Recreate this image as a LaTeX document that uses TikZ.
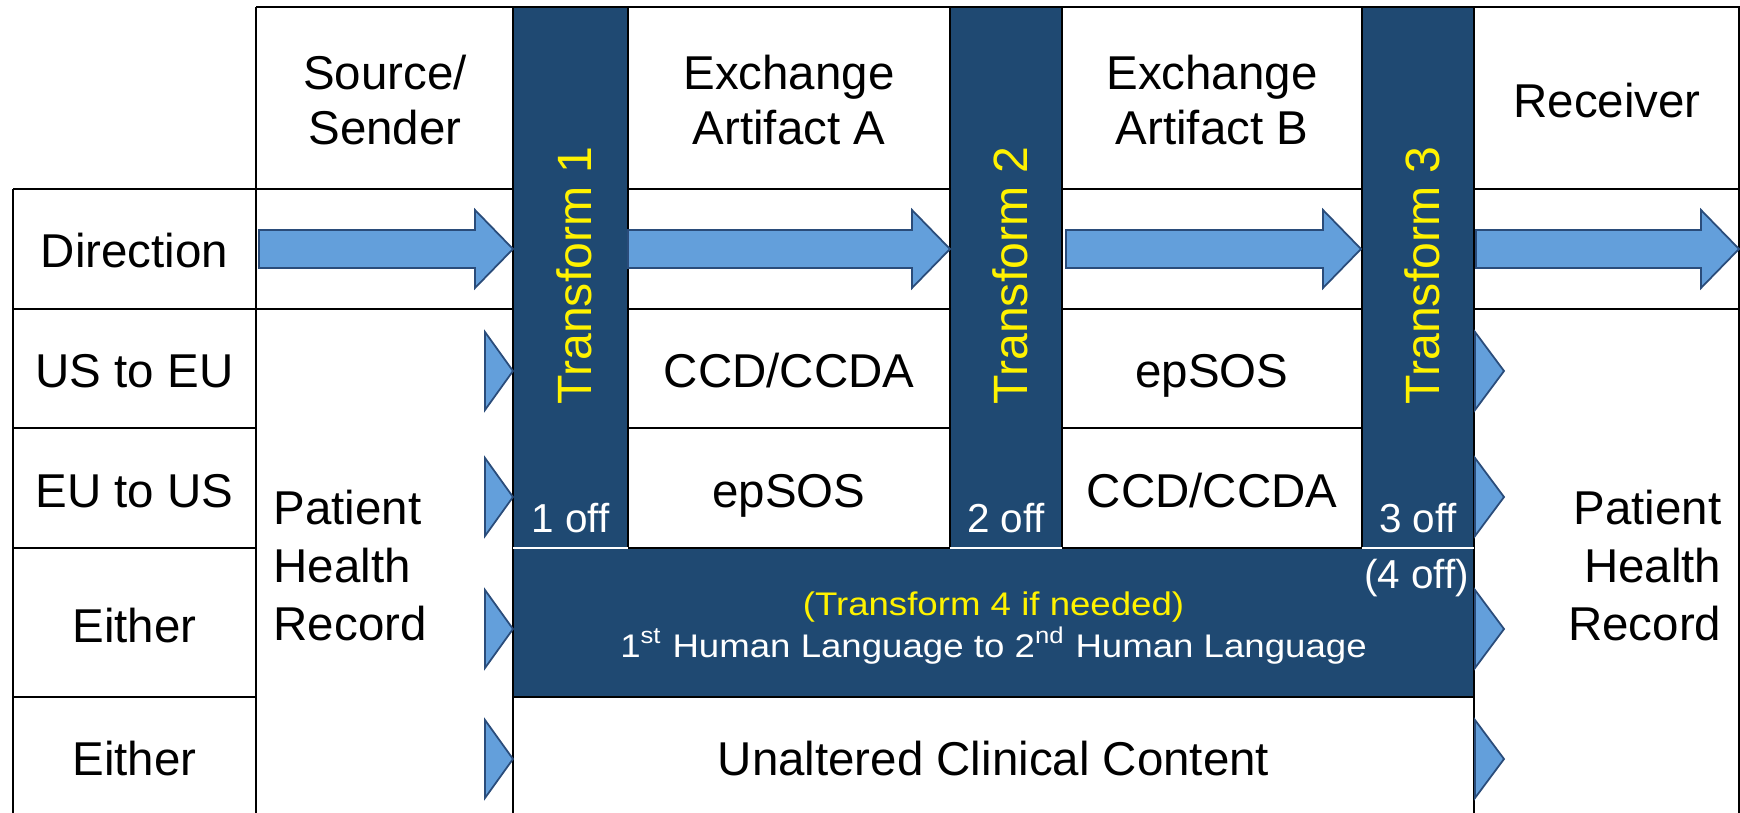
\documentclass[tikz,border=0pt]{standalone}
\usepackage{fontspec}
\setmainfont{Liberation Sans}
\newfontfamily\bandfont[FakeStretch=1.12]{Liberation Sans}
\usetikzlibrary{calc}

\definecolor{tfblue}{RGB}{31,73,114}
\definecolor{arrfill}{RGB}{99,159,219}
\definecolor{arrdraw}{RGB}{42,76,122}

\begin{document}
\begin{tikzpicture}[x=0.01cm, y=-0.01cm,
    grid/.style={draw=black, line width=0.6pt},
    tfbar/.style={fill=tfblue, draw=black, line width=0.6pt},
    arr/.style={fill=arrfill, draw=arrdraw, line width=0.5pt},
    txt/.style={inner sep=0, font=\fontsize{13.5}{15.6}\selectfont, align=center},
    rowtxt/.style={txt, anchor=base},
    phr/.style={inner sep=0, font=\fontsize{13.5}{16.5}\selectfont},
    tftxt/.style={inner sep=0, font=\fontsize{13.7}{16}\selectfont, text=yellow,
      rotate=90, anchor=base west},
    offtxt/.style={inner sep=0, font=\fontsize{11.5}{14}\selectfont, text=white, anchor=base},
    bandtxt/.style={inner sep=0, font=\bandfont\fontsize{9.3}{11}\selectfont, anchor=base}]
  \useasboundingbox (0,0) rectangle (1740,813);

  % table lines
  \draw[grid] (256,7) -- (1740,7);
  \draw[grid] (13,189) -- (1740,189);
  \draw[grid] (13,309) -- (1740,309);
  \foreach \y in {428,548}
    \draw[grid] (13,\y) -- (256,\y) (628,\y) -- (1362,\y);
  \draw[grid] (13,697) -- (256,697);
  \draw[grid] (13,189) -- (13,813);
  \foreach \x in {256,513,1474,1739}
    \draw[grid] (\x,7) -- (\x,813);

  % transform 4 band
  \draw[tfbar] (513,548) rectangle (1474,697);
  \node[bandtxt, text=yellow] (tf4) at (993.5,615) {(Transform 4 if needed)};
  \node[bandtxt, text=white] (lang) at (993.5,657)
    {1\textsuperscript{st} Human Language to 2\textsuperscript{nd} Human Language};
  \node[offtxt] (off4) at (1416.5,588) {(4 off)};

  % transform bars
  \foreach \l/\r/\n in {513/628/1, 950/1062/2, 1362/1474/3} {
    \draw[tfbar] (\l,7) rectangle (\r,548);
    \draw[white, line width=0.8pt] (\l,548) -- (\r,548);
    \node[tftxt] (tf\n) at ({(\l+\r)/2+21},405) {Transform \n};
    \node[offtxt] (off\n) at ({(\l+\r)/2},533) {\n\ off};
  }

  % direction arrows
  \foreach \a/\b in {259/513, 628/950, 1066/1361, 1476/1739}
    \draw[arr] (\a,230) -- ({\b-38},230) -- ({\b-38},210) -- (\b,249)
      -- ({\b-38},288) -- ({\b-38},268) -- (\a,268) -- cycle;

  % small heads in and out of the exchange
  \foreach \y in {371,497,629,759} {
    \draw[arr] (485,{\y-39}) -- (513,\y) -- (485,{\y+39}) -- cycle;
    \draw[arr] (1475,{\y-39}) -- (1504,\y) -- (1475,{\y+39}) -- cycle;
  }

  % headers
  \node[txt] (srchdr) at (385,100) {Source/\\Sender};
  \node[txt] (arthdrA) at (789,100) {Exchange\\Artifact A};
  \node[txt] (arthdrB) at (1212,100) {Exchange\\Artifact B};
  \node[txt] (rcvhdr) at (1607,100.5) {Receiver};

  % row labels
  \node[rowtxt] (rowdir) at (134.5,268) {Direction};
  \node[rowtxt] (rowus) at (134.5,388) {US to EU};
  \node[rowtxt] (roweu) at (134.5,508) {EU to US};
  \node[rowtxt] (rowany) at (134.5,642) {Either};
  \node[rowtxt] (rowraw) at (134.5,775) {Either};

  % cells
  \node[rowtxt] (usA) at (789,388) {CCD/CCDA};
  \node[rowtxt] (usB) at (1212,388) {epSOS};
  \node[rowtxt] (euA) at (789,508) {epSOS};
  \node[rowtxt] (euB) at (1212,508) {CCD/CCDA};
  \node[rowtxt] (raw) at (993.5,775) {Unaltered Clinical Content};

  % patient records
  \node[phr, align=left, anchor=west] (phrsrc) at (273,565.5) {Patient\\Health\\Record};
  \node[phr, align=right, anchor=east] (phrrcv) at (1722,565.5) {Patient\\Health\\Record};
\end{tikzpicture}
\end{document}
